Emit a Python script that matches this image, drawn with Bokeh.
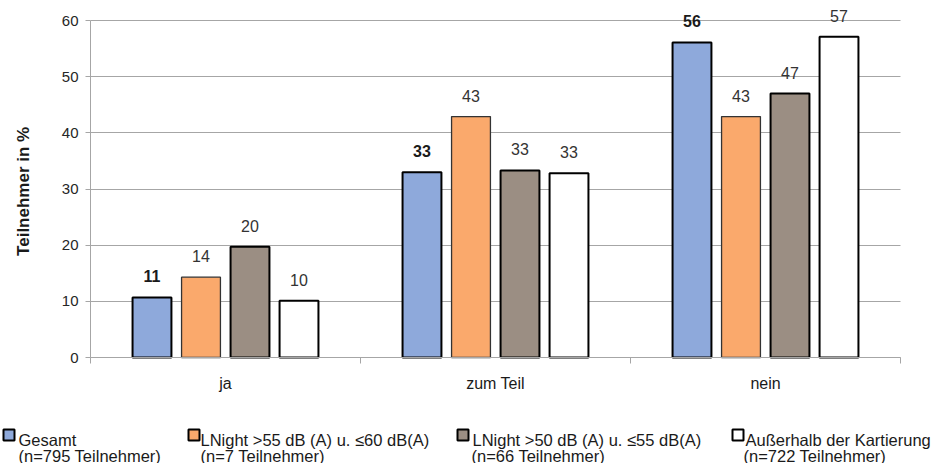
import numpy as np
from bokeh.plotting import figure
from bokeh.models import (Range1d, FixedTicker, ColumnDataSource, LabelSet,
                          Label, BoxAnnotation)
from bokeh.embed import file_html
from bokeh.resources import INLINE
from bokeh.core.properties import value

# ---------------- data ----------------
categories = ["ja", "zum Teil", "nein"]
series_names = ["Gesamt",
                "LNight >55 dB (A) u. \u226460 dB(A)",
                "LNight >50 dB (A) u. \u226455 dB(A)",
                "Au\u00dferhalb der Kartierung"]
series_n = ["(n=795 Teilnehmer)", "(n=7 Teilnehmer)",
            "(n=66 Teilnehmer)", "(n=722 Teilnehmer)"]
gesamt = [10.7, 33.0, 56.1]
lnight_55_60 = [14.3, 42.9, 42.9]
lnight_50_55 = [19.7, 33.3, 47.0]
ausserhalb = [10.1, 32.8, 57.1]
y_ticks = [0, 10, 20, 30, 40, 50, 60]

series_values = [gesamt, lnight_55_60, lnight_50_55, ausserhalb]
colors = ["#8EA9DB", "#FAA96C", "#9B8E83", "#FFFFFF"]
outline_colors = ["#000000", "#333333", "#000000", "#000000"]
outline_widths = [2, 1.3, 2, 2]

FONT = "Liberation Sans"
GRID = "#A6A6A6"

# ---------------- layout geometry (pixels) ----------------
W, H = 937, 463
PX_LEFT, PX_RIGHT, PX_TOP, PX_BOTTOM = 90, 900, 20, 357
ncat = len(categories)
ymax = y_ticks[-1]
ux = (PX_RIGHT - PX_LEFT) / ncat
uy = (PX_BOTTOM - PX_TOP) / ymax

# the plotting frame spans the whole canvas; axes sit at fixed locations
p = figure(width=W, height=H,
           x_range=Range1d(-PX_LEFT / ux, (W - PX_LEFT) / ux),
           y_range=Range1d(-(H - PX_BOTTOM) / uy, PX_BOTTOM / uy),
           output_backend="svg", toolbar_location=None,
           min_border_left=0, min_border_right=0, min_border_top=0,
           min_border_bottom=0)
p.outline_line_color = None
p.background_fill_color = "white"
p.border_fill_color = "white"
p.xgrid.visible = False
p.ygrid.ticker = FixedTicker(ticks=y_ticks)
p.ygrid.grid_line_color = GRID
p.ygrid.grid_line_width = 1
p.ygrid.bounds = (0, ymax)
if "cross_bounds" in p.ygrid[0].properties():
    p.ygrid.cross_bounds = (0, ncat)

# y axis
p.yaxis.fixed_location = 0
p.yaxis.ticker = FixedTicker(ticks=y_ticks)
p.yaxis.bounds = (0, ymax)
p.yaxis.axis_line_color = GRID
p.yaxis.major_tick_line_color = GRID
p.yaxis.major_tick_out = 5
p.yaxis.major_tick_in = 0
p.yaxis.minor_tick_line_color = None
p.yaxis.major_label_text_font = FONT
p.yaxis.major_label_text_font_size = "15px"
p.yaxis.major_label_text_color = "#262626"
p.yaxis.major_label_standoff = 7
p.yaxis.axis_label = "Teilnehmer  in %"
p.yaxis.axis_label_text_font = FONT
p.yaxis.axis_label_text_font_size = "17px"
p.yaxis.axis_label_text_font_style = "bold"
p.yaxis.axis_label_text_color = "#1a1a1a"
p.yaxis.axis_label_standoff = 26

# x axis: labels at category centres, separator ticks between categories
centres = [i + 0.5 for i in range(ncat)]
p.xaxis.fixed_location = 0
p.xaxis.bounds = (0, ncat)
p.xaxis.ticker = FixedTicker(ticks=centres, minor_ticks=list(range(ncat + 1)))
p.xaxis.major_label_overrides = {c: cat for c, cat in zip(centres, categories)}
p.xaxis.axis_line_color = GRID
p.xaxis.major_tick_line_color = None
p.xaxis.major_tick_out = 0
p.xaxis.major_tick_in = 0
p.xaxis.minor_tick_line_color = GRID
p.xaxis.minor_tick_out = 6
p.xaxis.minor_tick_in = 0
p.xaxis.major_label_text_font = FONT
p.xaxis.major_label_text_font_size = "16px"
p.xaxis.major_label_text_color = "#1a1a1a"
p.xaxis.major_label_standoff = 11

step = 0.1815
bar_w = 0.144
offsets = (np.arange(len(series_values)) - 1.5) * step
for k, vals in enumerate(series_values):
    xs = np.array(centres) + offsets[k]
    src = ColumnDataSource(dict(x=xs, top=vals,
                                label=[f"{v:.0f}" for v in vals]))
    p.vbar(x="x", top="top", width=bar_w, source=src,
           fill_color=colors[k], line_color=outline_colors[k],
           line_width=outline_widths[k])
    p.add_layout(LabelSet(x="x", y="top", text="label", source=src,
                          text_align="center", text_baseline="alphabetic",
                          y_offset=15, text_font=value(FONT),
                          text_font_size="16px",
                          text_font_style="bold" if k == 0 else "normal",
                          text_color="#1a1a1a" if k == 0 else "#333333"))

# ---------------- legend (canvas pixel positions) ----------------
sq_left = [3, 188, 457, 732]
txt_x = [18, 200, 472, 745]
txt2_x = [18, 200, 471, 743]
for k in range(len(series_names)):
    p.add_layout(BoxAnnotation(left=sq_left[k], right=sq_left[k] + 11,
                               top=429, bottom=440,
                               left_units="canvas", right_units="canvas",
                               top_units="canvas", bottom_units="canvas",
                               fill_color=colors[k], fill_alpha=1,
                               line_color="#000000", line_width=2,
                               line_alpha=1))
    p.add_layout(Label(x=txt_x[k], y=439, x_units="canvas", y_units="canvas",
                       text=series_names[k], text_font=FONT,
                       text_font_size="16.5px", text_baseline="alphabetic",
                       text_color="#1a1a1a"))
    p.add_layout(Label(x=txt2_x[k], y=455, x_units="canvas", y_units="canvas",
                       text=series_n[k], text_font=FONT,
                       text_font_size="16.5px", text_baseline="alphabetic",
                       text_color="#1a1a1a"))

open("out.html", "w").write(file_html(p, INLINE))
